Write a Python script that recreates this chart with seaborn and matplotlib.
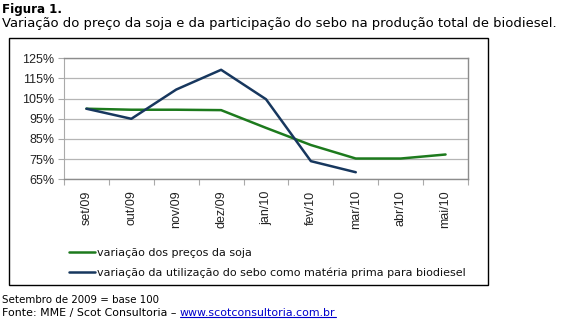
import matplotlib
matplotlib.use("Agg")
import matplotlib.pyplot as plt
import seaborn as sns
import pandas as pd
from matplotlib.lines import Line2D
from matplotlib.patches import Rectangle
from matplotlib.ticker import FixedLocator

months = ["set/09", "out/09", "nov/09", "dez/09", "jan/10", "fev/10", "mar/10", "abr/10", "mai/10"]
soja = [100, 99.5, 99.5, 99.3, 90.5, 82, 75.3, 75.3, 77.3]
sebo_months = ["set/09", "out/09", "nov/09", "dez/09", "jan/10", "fev/10", "mar/10"]
sebo = [100, 95, 109.5, 119.3, 104.7, 74, 68.5]
yticks = [65, 75, 85, 95, 105, 115, 125]
label_soja = "variação dos preços da soja"
label_sebo = "variação da utilização do sebo como matéria prima para biodiesel"

sns.set_theme(style="white")
plt.rcParams['font.family'] = ['DejaVu Sans']

W, H = 566, 322
fig = plt.figure(figsize=(W / 100, H / 100), dpi=100)

def fx(px):
    return px / W

def fy(py):
    return 1 - py / H

left, right, top, bottom = 64, 468, 58.3, 179.3
ax = fig.add_axes([fx(left), fy(bottom), fx(right - left), (bottom - top) / H])

pos = {m: i for i, m in enumerate(months)}
df_soja = pd.DataFrame({"x": [pos[m] for m in months], "y": soja})
df_sebo = pd.DataFrame({"x": [pos[m] for m in sebo_months], "y": sebo})

sns.lineplot(data=df_soja, x="x", y="y", ax=ax, color="#1d7a1d", linewidth=1.8, label=label_soja)
sns.lineplot(data=df_sebo, x="x", y="y", ax=ax, color="#17375e", linewidth=1.8, label=label_sebo)

ax.set_xlim(-0.5, len(months) - 0.5)
ax.set_ylim(65, 125)
ax.set_yticks(yticks)
ax.set_yticklabels([f"{v}%" for v in yticks], fontfamily="Liberation Sans", fontsize=9, color="#222222")
ax.set_xticks(range(len(months)))
ax.set_xticklabels(months, rotation=90, fontfamily="Liberation Sans", fontsize=9, color="#222222")
ax.xaxis.set_minor_locator(FixedLocator([i - 0.5 for i in range(len(months) + 1)]))
ax.tick_params(axis="x", which="major", length=0, pad=8)
ax.tick_params(axis="x", which="minor", length=4, color="#aaaaaa", width=0.8, direction="out", bottom=True)
ax.tick_params(axis="y", which="major", length=4, color="#aaaaaa", width=0.8, direction="out", left=True, pad=3)
ax.set_xlabel("")
ax.set_ylabel("")
ax.grid(axis="y", color="#b5b5b5", linewidth=0.9)
ax.set_axisbelow(True)
for s in ["top", "right", "bottom"]:
    ax.spines[s].set_color("#8c8c8c")
    ax.spines[s].set_linewidth(1.0)
ax.spines["left"].set_color("#aaaaaa")
ax.spines["left"].set_linewidth(0.8)

leg = ax.legend(loc="upper left", bbox_to_anchor=(fx(69), fy(247.5)), bbox_transform=fig.transFigure,
                frameon=False, fontsize=8, handlelength=2.35, handletextpad=0.18,
                labelspacing=0.88, borderaxespad=0, borderpad=0)
for line in leg.get_lines():
    line.set_linewidth(1.8)
for t in leg.get_texts():
    t.set_color("#111111")

fig.patches.append(Rectangle((fx(9), fy(285)), fx(488 - 9), (285 - 38) / H, transform=fig.transFigure,
                             fill=False, edgecolor="black", linewidth=1.0))

fig.text(fx(2), fy(9), "Figura 1.", fontsize=8.6, fontweight="bold", va="center", ha="left", color="black")
fig.text(fx(2), fy(24), "Variação do preço da soja e da participação do sebo na produção total de biodiesel.",
         fontsize=9.45, va="center", ha="left", color="black")
fig.text(fx(2), fy(300), "Setembro de 2009 = base 100", fontsize=7.4, va="center", ha="left", color="black")
t1 = fig.text(fx(2), fy(313), "Fonte: MME / Scot Consultoria – ", fontsize=7.9, va="center", ha="left", color="black")
fig.canvas.draw()
r = fig.canvas.get_renderer()
bb = t1.get_window_extent(r)
t2 = fig.text(bb.x1 / W, fy(313), "www.scotconsultoria.com.br", fontsize=7.9, va="center", ha="left", color="#0000cc")
fig.canvas.draw()
bb2 = t2.get_window_extent(r)
uy = bb2.y0 + 1
fig.add_artist(Line2D([bb2.x0 / W, bb2.x1 / W], [uy / H, uy / H], transform=fig.transFigure,
                      color="#0000cc", linewidth=0.8))

fig.savefig("out.png", dpi=100)
